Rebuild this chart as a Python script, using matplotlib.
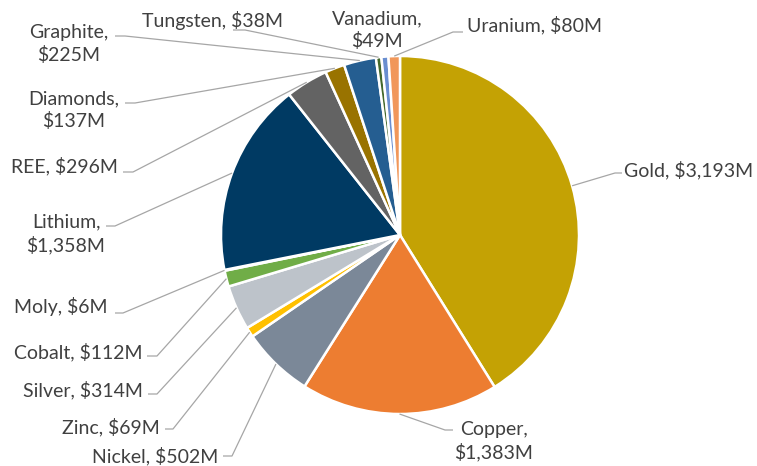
import matplotlib
matplotlib.use("Agg")
import matplotlib.pyplot as plt
import numpy as np

# ---- data ----
minerals = ["Gold", "Copper", "Nickel", "Zinc", "Silver", "Cobalt", "Moly",
            "Lithium", "REE", "Diamonds", "Graphite", "Tungsten", "Vanadium", "Uranium"]
values = [3193, 1383, 502, 69, 314, 112, 6, 1358, 296, 137, 225, 38, 49, 80]
label_texts = ["Gold, $3,193M", "Copper,\n$1,383M", "Nickel, $502M", "Zinc, $69M",
               "Silver, $314M", "Cobalt, $112M", "Moly, $6M", "Lithium,\n$1,358M",
               "REE, $296M", "Diamonds,\n$137M", "Graphite,\n$225M", "Tungsten, $38M",
               "Vanadium,\n$49M", "Uranium, $80M"]
colors = ["#C4A204", "#ED7D31", "#7B8898", "#FFC000", "#BDC3CA", "#70AD47", "#9E480E",
          "#003A63", "#636363", "#997300", "#255E91", "#43682B", "#698ED0", "#F1975A"]

# ---- label layout (pixels, y measured from top) ----
text_pos = [(624, 170, "left"), (494, 441, "center"), (218, 456, "right"),
            (160, 427, "right"), (143, 390, "right"), (142, 352, "right"),
            (108, 307, "right"), (66, 234, "center"), (118, 166, "right"),
            (74, 110, "center"), (69, 44, "center"), (212, 20, "center"),
            (377, 30, "center"), (467, 25, "left")]
leader = [((615, 173), (622, 173)), ((445, 430), (453, 430)), ((232, 456), (223, 456)),
          ((173, 429), (165, 429)), ((157, 394), (148, 394)), ((157, 356), (147, 356)),
          ((123, 313), (115, 313)), ((115, 226), (106, 226)), ((133, 172), (123, 172)),
          ((135, 103), (125, 103)), ((125, 36), (115, 36)), ((245, 30), (233, 30)),
          None, ((453, 32), (463, 32))]

W, H = 757, 466
fig = plt.figure(figsize=(W / 100, H / 100), dpi=100)
ax = fig.add_axes([0, 0, 1, 1])

cx, cy, R = 400, H - 235, 179

wedges, _ = ax.pie(values, colors=colors, startangle=90, counterclock=False,
                   center=(cx, cy), radius=R, frame=True,
                   wedgeprops=dict(edgecolor="white", linewidth=1.8))
ax.set_xlim(0, W)
ax.set_ylim(0, H)
ax.set_aspect("equal")
ax.axis("off")

txt_color = "#404040"
line_color = "#A6A6A6"
for w, txt, (tx, ty, ha), ld in zip(wedges, label_texts, text_pos, leader):
    ax.text(tx, H - ty, txt, ha=ha, va="center", ma="center", fontsize=14,
            family="Lato", color=txt_color, linespacing=1.32)
    if ld is not None:
        mid = np.deg2rad((w.theta1 + w.theta2) / 2)
        axx = cx + R * np.cos(mid)
        ayy = cy + R * np.sin(mid)
        (ex, ey), (fx, fy) = ld
        ax.plot([axx, ex, fx], [ayy, H - ey, H - fy], color=line_color, lw=0.9,
                solid_capstyle="butt")

fig.savefig("out.png", dpi=100)
